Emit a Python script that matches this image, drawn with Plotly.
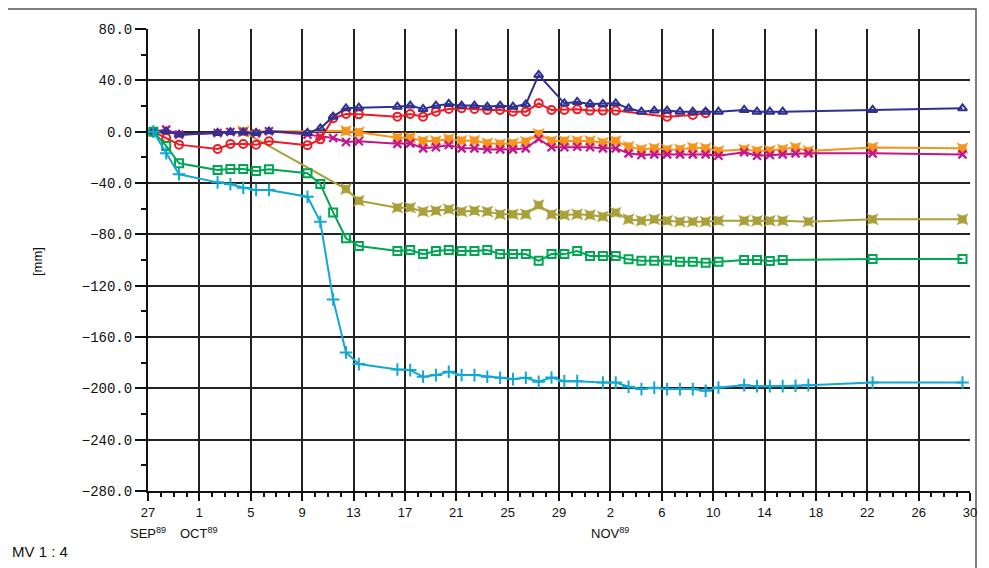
import plotly.graph_objects as go

# measurement dates (approx. 10:00 each day)
dates = ["1989-09-27", "1989-09-28", "1989-09-29", "1989-10-02", "1989-10-03", "1989-10-04",
         "1989-10-05", "1989-10-06", "1989-10-09", "1989-10-10", "1989-10-11", "1989-10-12",
         "1989-10-13", "1989-10-16", "1989-10-17", "1989-10-18", "1989-10-19", "1989-10-20",
         "1989-10-21", "1989-10-22", "1989-10-23", "1989-10-24", "1989-10-25", "1989-10-26",
         "1989-10-27", "1989-10-28", "1989-10-29", "1989-10-30", "1989-10-31", "1989-11-01",
         "1989-11-02", "1989-11-03", "1989-11-04", "1989-11-05", "1989-11-06", "1989-11-07",
         "1989-11-08", "1989-11-09", "1989-11-10", "1989-11-12", "1989-11-13", "1989-11-14",
         "1989-11-15", "1989-11-16", "1989-11-17", "1989-11-22", "1989-11-29"]
N = None

navy = [0, 0.3, -2.3, -1.0, -0.3, -0.5, -1.0, 0.3, -1.0, 2.6, 11.7, 18.2,
        18.7, 19.5, 20.3, 17.7, 20.3, 21.6, 20.3, 20.3, 19.5, 20.3, 19.5, 21.3,
        44.2, N, 22.1, 23.2, 21.6, 21.6, 22.1, 18.2, 15.6, 16.4, 16.4, 15.6,
        15.6, 15.6, 15.6, 16.9, 15.6, 15.6, 15.6, N, N, 16.9, 18.2]
red = [0, -4.9, -10.1, -13.5, -9.6, -9.6, -10.1, -7.5, -10.5, -6.0, 10.4, 13.8,
       13.5, 11.7, 13.8, 11.7, 15.6, 17.7, 18.2, 17.7, 16.9, 16.9, 15.6, 15.6,
       22.1, 16.9, 16.9, 17.4, 16.4, 16.4, 16.4, N, N, N, 11.7, N,
       13.0, 14.3, N, N, N, N, N, N, N, N, N]
orange = [N, N, N, N, N, 0, N, N, N, N, N, 0.5,
          -0.5, -4.7, -4.7, -7.3, -7.3, -5.7, -7.0, -7.0, -9.1, -9.6, -9.1, -7.8,
          -1.8, -7.3, -7.3, -7.3, -7.3, -8.6, -7.3, -11.7, -13.8, -13.0, -14.0, -13.8,
          -12.4, -13.0, -15.1, -13.8, -15.1, -14.8, -13.8, -12.4, -15.1, -12.4, -13.0]
magenta = [0, 1.6, -2.3, -1.0, -0.3, -0.3, -1.5, 0.3, -2.3, -3.8, -5.0, -8.0,
           -7.4, -9.5, -9.1, -13.0, -12.2, -10.4, -13.0, -13.0, -13.8, -13.8, -13.8, -13.0,
           -5.7, -12.2, -12.2, -11.7, -12.2, -13.0, -13.0, -16.9, -18.2, -17.7, -17.7, -17.7,
           -17.7, -17.7, -18.7, -16.1, -18.7, -18.2, -17.7, -16.9, -16.9, -16.9, -17.7]
olive = [N, N, N, N, N, 0, N, N, N, N, N, -44.7,
         -53.8, -59.2, -59.2, -62.3, -61.6, -60.5, -62.3, -61.6, -62.3, -64.4, -64.4, -64.4,
         -57.2, -64.4, -64.9, -64.4, -64.9, -66.2, -63.1, -68.3, -69.4, -68.3, -69.4, -70.1,
         -70.1, -70.1, -69.4, -69.4, -69.4, -69.4, -69.4, N, -70.1, -68.3, -68.3]
green = [0, -11.1, -24.6, -29.9, -29.1, -29.1, -30.6, -29.3, -32.4, -40.8, -62.9, -83.1,
         -89.1, -93.0, -92.2, -95.4, -93.0, -92.2, -93.0, -93.0, -92.2, -95.4, -95.4, -95.4,
         -100.6, -95.4, -95.4, -93.0, -96.9, -96.9, -96.9, -99.5, -100.6, -100.6, -100.3, -101.3,
         -101.3, -102.1, -101.3, -100.0, -100.0, -100.8, -100.0, N, N, -99.3, -99.3]
cyan = [0, -16.8, -33.2, -39.5, -41.0, -43.7, -45.5, -45.5, -50.7, -70.2, -130.7, -172.0,
        -181.1, -185.3, -185.8, -191.0, -189.7, -187.1, -189.7, -189.7, -191.0, -191.8, -192.8, -191.8,
        -194.9, -191.6, -194.4, -194.4, N, -195.4, -195.4, -198.8, -200.6, -199.6, -200.6, -200.6,
        -200.6, -201.9, -199.3, -197.5, -198.3, -198.3, -198.3, -198.0, -197.5, -195.4, -195.4]

tick_dates = ["1989-09-27", "1989-10-01", "1989-10-05", "1989-10-09", "1989-10-13", "1989-10-17",
              "1989-10-21", "1989-10-25", "1989-10-29", "1989-11-02", "1989-11-06", "1989-11-10",
              "1989-11-14", "1989-11-18", "1989-11-22", "1989-11-26", "1989-11-30"]
tick_labels = ["27", "1", "5", "9", "13", "17", "21", "25", "29", "2", "6", "10",
               "14", "18", "22", "26", "30"]
month_dates = ["1989-09-27", "1989-10-01", "1989-11-02"]
month_labels = ["SEP<sup>89</sup>", "OCT<sup>89</sup>", "NOV<sup>89</sup>"]

x = [d + " 10:00" for d in dates]

series = [
    (olive, "#A9A03A", "star-square", 10, 0.5),
    (orange, "#F7941D", "star-square", 10, 0.5),
    (magenta, "#C4168C", "x-thin-open", 8, 2.2),
    (red, "#ED1C24", "circle-open", 8, 2),
    (navy, "#2E3192", "triangle-up-open", 8, 2),
    (green, "#00A651", "square-open", 8, 2),
    (cyan, "#12A8D4", "cross-thin-open", 9, 2),
]

fig = go.Figure()
for vals, col, sym, size, lw in series:
    fig.add_trace(go.Scatter(
        x=x, y=vals, mode="lines+markers", connectgaps=True,
        line=dict(color=col, width=2),
        marker=dict(symbol=sym, size=size, color=col, line=dict(color=col, width=lw)),
        showlegend=False,
    ))

# page has an 8px body offset; figure is sized to fit the window
OFF = 8
W, H = 989 - OFF, 568 - OFF
L, R, T, B = 148 - OFF, 19, 29 - OFF, 77
pw, ph = W - L - R, H - T - B


def px(xp):
    return (xp - OFF - L) / pw


def py(yp):
    return (H - B - (yp - OFF)) / ph


fig.update_layout(
    width=W, height=H,
    margin=dict(l=L, r=R, t=T, b=B, autoexpand=False),
    paper_bgcolor="white", plot_bgcolor="white",
    font=dict(family="Liberation Sans, Arial", color="#111"),
    xaxis=dict(
        type="date", range=["1989-09-27", "1989-11-30"],
        tickvals=tick_dates, ticktext=tick_labels,
        showgrid=True, gridcolor="#222", gridwidth=2,
        showline=True, linecolor="#111", linewidth=2, mirror=False,
        ticks="outside", ticklen=8, tickwidth=2, tickcolor="#111",
        tickfont=dict(size=13, family="Liberation Sans"),
        minor=dict(dtick=86400000, tick0="1989-09-27", ticks="outside", ticklen=4,
                   tickwidth=1.5, tickcolor="#111", showgrid=False),
        zeroline=False,
    ),
    yaxis=dict(
        range=[-280, 80], tickvals=[80, 40, 0, -40, -80, -120, -160, -200, -240, -280],
        tickformat=".1f",
        showgrid=True, gridcolor="#222", gridwidth=2,
        showline=True, linecolor="#111", linewidth=2,
        ticks="outside", ticklen=11, tickwidth=2, tickcolor="#111",
        tickfont=dict(size=14, family="Liberation Mono"),
        minor=dict(dtick=20, tick0=0, ticks="outside", ticklen=5, tickwidth=1.5,
                   tickcolor="#111", showgrid=False),
        zeroline=False,
    ),
)

for d, lab in zip(month_dates, month_labels):
    fig.add_annotation(x=d, y=py(533), xref="x", yref="paper", text=lab, showarrow=False,
                       xanchor="center", yanchor="middle",
                       font=dict(size=13, family="Liberation Sans", color="#111"))

fig.add_annotation(x=px(38), y=py(262), xref="paper", yref="paper", text="[mm]",
                   textangle=-90, showarrow=False, xanchor="center", yanchor="middle",
                   font=dict(size=13, family="Liberation Sans", color="#111"))
fig.add_annotation(x=px(10), y=py(551), xref="paper", yref="paper", text="MV 1 : 4",
                   showarrow=False, xanchor="left", yanchor="middle",
                   font=dict(size=15, family="Liberation Sans", color="#111"))

fig.add_shape(type="rect", xref="paper", yref="paper",
              x0=px(5.5), x1=px(976), y0=py(620), y1=py(9),
              line=dict(color="#555", width=1.5), layer="below")

fig.write_html("out.html")
